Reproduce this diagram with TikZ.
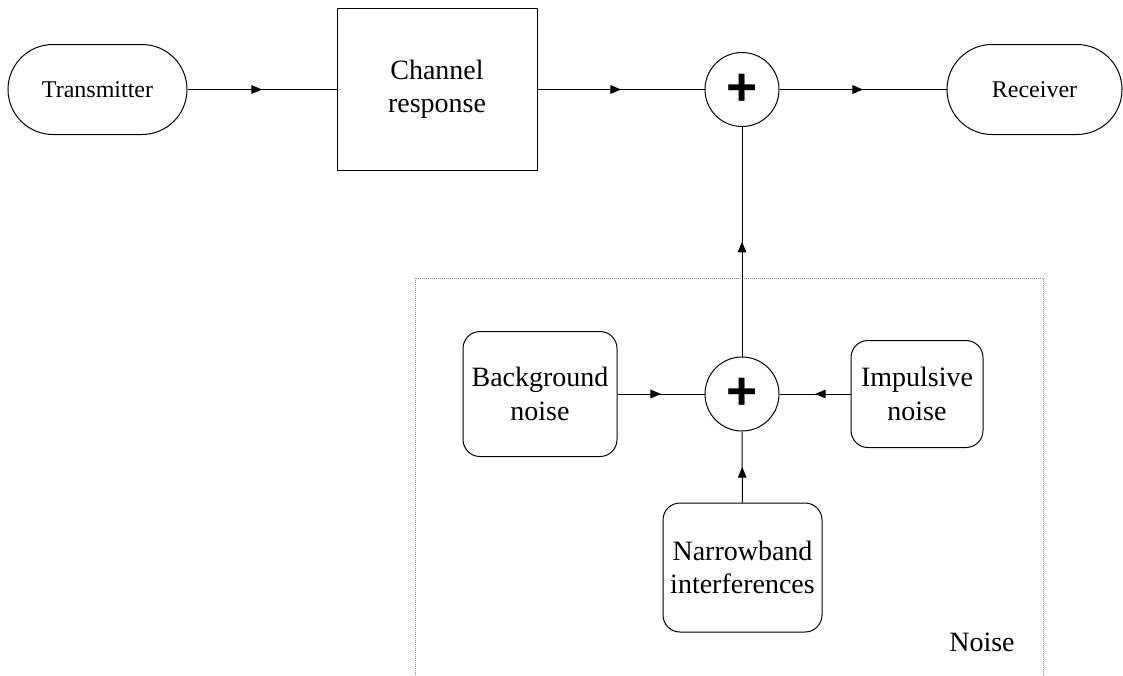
\documentclass[tikz,border=0pt]{standalone}
\usepackage{fontspec}
\setmainfont{Liberation Serif}
\newfontfamily\plusfont{Liberation Sans}
\usetikzlibrary{arrows.meta,decorations.markings}

\tikzset{
  block/.style={draw, line width=0.75pt, align=center, inner sep=0pt,
    font=\fontsize{21}{25}\selectfont},
  stadium/.style={block, rounded corners=33.75pt, minimum width=134.25pt,
    minimum height=67.5pt, font=\fontsize{18}{22}\selectfont},
  sqbox/.style={block, minimum width=150pt, minimum height=121.5pt},
  softbox/.style={block, rounded corners=12.75pt},
  summer/.style={draw, line width=0.75pt, circle, minimum size=55.5pt, inner sep=0pt,
    font=\plusfont\bfseries\fontsize{40}{40}\selectfont},
  flow/.style={line width=0.75pt, postaction={decorate},
    decoration={markings, mark=at position 0.5 with
      {\arrow{Triangle[length=8pt,width=6.5pt]}}}},
  frame/.style={draw=black!45, line width=0.75pt, dash pattern=on 0.75pt off 0.75pt},
  caption/.style={font=\fontsize{21}{25}\selectfont, inner sep=0pt}
}

\begin{document}
\begin{tikzpicture}[x=0.75pt, y=-0.75pt]
  \useasboundingbox (0,0) rectangle (1123,675);

  % noise sub-system frame
  \node[frame, minimum width=471pt, minimum height=318pt, inner sep=0pt] (noisebox) at (729,490) {};
  \node[caption] (noiselbl) at (982,642) {Noise};

  % main signal chain
  \node[stadium] (tx) at (97.5,89.5) {Transmitter};
  \node[sqbox] (ch) at (437,89.5) {Channel\\response};
  \node[summer] (s1) at (742,89.5) {+};
  \node[stadium, minimum width=131.25pt] (rx) at (1034.5,89.5) {Receiver};

  % noise sources
  \node[summer] (s2) at (742,394) {+};
  \node[softbox, minimum width=115.5pt, minimum height=93.75pt] (bg) at (540,394) {Background\\noise};
  \node[softbox, minimum width=99pt, minimum height=80.25pt] (im) at (917,394) {Impulsive\\noise};
  \node[softbox, minimum width=119.25pt, minimum height=96.75pt] (nb) at (742.5,567.5) {Narrowband\\interferences};

  % connectors
  \draw[flow] (tx) -- (ch);
  \draw[flow] (ch) -- (s1);
  \draw[flow] (s1) -- (rx);
  \draw[flow] (s2) -- (s1);
  \draw[flow] (bg) -- (s2);
  \draw[flow] (im) -- (s2);
  \draw[flow] (nb) -- (s2);
\end{tikzpicture}
\end{document}
